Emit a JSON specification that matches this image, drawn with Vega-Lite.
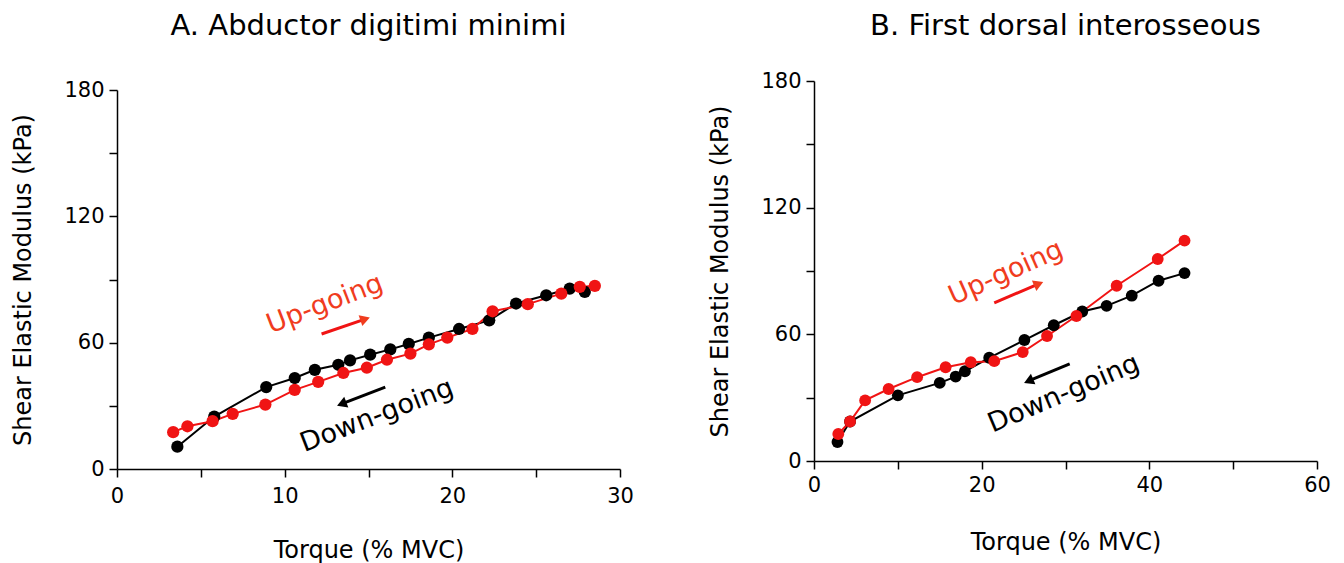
{
  "$schema": "https://vega.github.io/schema/vega-lite/v6.json",
  "background": "white",
  "padding": {"left": 11, "top": 12, "right": 5, "bottom": 5},
  "spacing": 74,
  "config": {
    "font": "DejaVu Sans",
    "view": {"stroke": null},
    "axis": {
      "grid": false,
      "domainColor": "black",
      "domainWidth": 1.5,
      "tickColor": "black",
      "tickWidth": 1.5,
      "tickSize": 8,
      "labelColor": "black",
      "labelFontSize": 21,
      "labelFlush": false,
      "labelOverlap": false,
      "labelPadding": 5,
      "titleColor": "black",
      "titleFontSize": 24,
      "titleFontWeight": "normal"
    },
    "title": {"fontSize": 29, "fontWeight": "normal", "color": "black", "anchor": "middle"}
  },
  "datasets": {
    "pts": [
      {"panel": "A", "dir": "down", "x": 3.6, "y": 10.6},
      {"panel": "A", "dir": "down", "x": 5.8, "y": 24.9},
      {"panel": "A", "dir": "down", "x": 8.9, "y": 38.9},
      {"panel": "A", "dir": "down", "x": 10.6, "y": 43.2},
      {"panel": "A", "dir": "down", "x": 11.8, "y": 47.1},
      {"panel": "A", "dir": "down", "x": 13.2, "y": 49.5},
      {"panel": "A", "dir": "down", "x": 13.9, "y": 51.6},
      {"panel": "A", "dir": "down", "x": 15.1, "y": 54.3},
      {"panel": "A", "dir": "down", "x": 16.3, "y": 56.8},
      {"panel": "A", "dir": "down", "x": 17.4, "y": 59.4},
      {"panel": "A", "dir": "down", "x": 18.6, "y": 62.4},
      {"panel": "A", "dir": "down", "x": 20.4, "y": 66.5},
      {"panel": "A", "dir": "down", "x": 22.2, "y": 70.6},
      {"panel": "A", "dir": "down", "x": 23.8, "y": 78.6},
      {"panel": "A", "dir": "down", "x": 25.6, "y": 82.5},
      {"panel": "A", "dir": "down", "x": 27.0, "y": 85.7},
      {"panel": "A", "dir": "down", "x": 27.9, "y": 84.1},
      {"panel": "A", "dir": "up", "x": 3.35, "y": 17.5},
      {"panel": "A", "dir": "up", "x": 4.2, "y": 20.3},
      {"panel": "A", "dir": "up", "x": 5.7, "y": 22.7},
      {"panel": "A", "dir": "up", "x": 6.9, "y": 26.2},
      {"panel": "A", "dir": "up", "x": 8.85, "y": 30.6},
      {"panel": "A", "dir": "up", "x": 10.6, "y": 37.6},
      {"panel": "A", "dir": "up", "x": 12.0, "y": 41.4},
      {"panel": "A", "dir": "up", "x": 13.5, "y": 45.6},
      {"panel": "A", "dir": "up", "x": 14.9, "y": 48.1},
      {"panel": "A", "dir": "up", "x": 16.1, "y": 51.9},
      {"panel": "A", "dir": "up", "x": 17.5, "y": 54.8},
      {"panel": "A", "dir": "up", "x": 18.6, "y": 59.2},
      {"panel": "A", "dir": "up", "x": 19.7, "y": 62.4},
      {"panel": "A", "dir": "up", "x": 21.2, "y": 66.5},
      {"panel": "A", "dir": "up", "x": 22.4, "y": 74.9},
      {"panel": "A", "dir": "up", "x": 24.5, "y": 78.3},
      {"panel": "A", "dir": "up", "x": 26.5, "y": 83.3},
      {"panel": "A", "dir": "up", "x": 27.6, "y": 86.5},
      {"panel": "A", "dir": "up", "x": 28.5, "y": 87.0},
      {"panel": "B", "dir": "down", "x": 2.8, "y": 9.0},
      {"panel": "B", "dir": "down", "x": 4.3, "y": 18.7},
      {"panel": "B", "dir": "down", "x": 10.0, "y": 31.1},
      {"panel": "B", "dir": "down", "x": 15.0, "y": 37.0},
      {"panel": "B", "dir": "down", "x": 16.9, "y": 40.0},
      {"panel": "B", "dir": "down", "x": 18.0, "y": 42.5},
      {"panel": "B", "dir": "down", "x": 20.9, "y": 48.9},
      {"panel": "B", "dir": "down", "x": 25.1, "y": 57.3},
      {"panel": "B", "dir": "down", "x": 28.6, "y": 64.3},
      {"panel": "B", "dir": "down", "x": 32.0, "y": 70.8},
      {"panel": "B", "dir": "down", "x": 34.9, "y": 73.5},
      {"panel": "B", "dir": "down", "x": 37.9, "y": 78.3},
      {"panel": "B", "dir": "down", "x": 41.1, "y": 85.4},
      {"panel": "B", "dir": "down", "x": 44.2, "y": 89.0},
      {"panel": "B", "dir": "up", "x": 2.9, "y": 12.8},
      {"panel": "B", "dir": "up", "x": 4.3, "y": 18.7},
      {"panel": "B", "dir": "up", "x": 6.1, "y": 28.7},
      {"panel": "B", "dir": "up", "x": 8.9, "y": 34.1},
      {"panel": "B", "dir": "up", "x": 12.3, "y": 39.7},
      {"panel": "B", "dir": "up", "x": 15.7, "y": 44.4},
      {"panel": "B", "dir": "up", "x": 18.7, "y": 46.8},
      {"panel": "B", "dir": "up", "x": 21.5, "y": 47.3},
      {"panel": "B", "dir": "up", "x": 24.9, "y": 51.6},
      {"panel": "B", "dir": "up", "x": 27.8, "y": 59.2},
      {"panel": "B", "dir": "up", "x": 31.3, "y": 68.7},
      {"panel": "B", "dir": "up", "x": 36.1, "y": 83.0},
      {"panel": "B", "dir": "up", "x": 41.0, "y": 95.7},
      {"panel": "B", "dir": "up", "x": 44.2, "y": 104.4}
    ],
    "ann": [
      {"panel": "A", "dir": "up", "label": "Up-going", "x": 12.4, "y": 78.3},
      {"panel": "A", "dir": "down", "label": "Down-going", "x": 15.5, "y": 25.2},
      {"panel": "B", "dir": "up", "label": "Up-going", "x": 22.9, "y": 89.0},
      {"panel": "B", "dir": "down", "label": "Down-going", "x": 29.8, "y": 31.8}
    ],
    "arr": [
      {"panel": "A", "dir": "up", "x": 12.2, "y": 64.1, "x2": 14.8, "y2": 71.2},
      {"panel": "A", "dir": "down", "x": 16.0, "y": 38.9, "x2": 13.4, "y2": 30.9},
      {"panel": "B", "dir": "up", "x": 21.5, "y": 74.9, "x2": 26.8, "y2": 83.9},
      {"panel": "B", "dir": "down", "x": 30.5, "y": 46.0, "x2": 25.6, "y2": 37.9}
    ]
  },
  "hconcat": [
    {
      "title": {"text": "A. Abductor digitimi minimi", "offset": 38},
      "width": 503,
      "height": 388,
      "layer": [
        {
          "data": {"name": "pts"},
          "transform": [{"filter": "datum.panel === 'A'"}],
          "mark": {"type": "line", "strokeWidth": 2},
          "encoding": {
            "x": {"field": "x", "type": "quantitative", "scale": {"domain": [0, 30], "nice": false},
              "axis": {"title": "Torque (% MVC)", "values": [0, 5, 10, 15, 20, 25, 30], "labelExpr": "datum.value % 10 === 0 ? datum.label : ''", "titlePadding": 32, "labelPadding": 8}},
            "y": {"field": "y", "type": "quantitative", "scale": {"domain": [0, 180], "nice": false, "range": [388, 9]},
              "axis": {"title": "Shear Elastic Modulus (kPa)", "values": [0, 30, 60, 90, 120, 150, 180], "labelExpr": "datum.value % 60 === 0 ? datum.label : ''", "titlePadding": 28}},
            "color": {"field": "dir", "type": "nominal", "scale": {"domain": ["down", "up"], "range": ["#000000", "#f01414"]}, "legend": null},
            "order": {"field": "x", "type": "quantitative"}
          }
        },
        {
          "data": {"name": "pts"},
          "transform": [{"filter": "datum.panel === 'A'"}],
          "mark": {"type": "point", "filled": true, "opacity": 1, "size": 150, "shape": "circle"},
          "encoding": {
            "x": {"field": "x", "type": "quantitative"},
            "y": {"field": "y", "type": "quantitative"},
            "color": {"field": "dir", "type": "nominal", "scale": {"domain": ["down", "up"], "range": ["#000000", "#f01414"]}, "legend": null}
          }
        },
        {
          "data": {"name": "arr"},
          "transform": [{"filter": "datum.panel === 'A'"}],
          "mark": {"type": "rule", "strokeWidth": 3},
          "encoding": {
            "x": {"field": "x", "type": "quantitative"},
            "y": {"field": "y", "type": "quantitative"},
            "x2": {"field": "x2"},
            "y2": {"field": "y2"},
            "color": {"field": "dir", "type": "nominal", "scale": {"domain": ["down", "up"], "range": ["#000000", "#f03c1e"]}, "legend": null}
          }
        },
        {
          "data": {"name": "arr"},
          "transform": [{"filter": "datum.panel === 'A' && datum.dir === 'up'"}],
          "mark": {"type": "point", "shape": "triangle-right", "filled": true, "opacity": 1, "size": 130, "angle": 341, "color": "#f03c1e"},
          "encoding": {"x": {"field": "x2", "type": "quantitative"}, "y": {"field": "y2", "type": "quantitative"}}
        },
        {
          "data": {"name": "arr"},
          "transform": [{"filter": "datum.panel === 'A' && datum.dir === 'down'"}],
          "mark": {"type": "point", "shape": "triangle-right", "filled": true, "opacity": 1, "size": 130, "angle": 159, "color": "#000000"},
          "encoding": {"x": {"field": "x2", "type": "quantitative"}, "y": {"field": "y2", "type": "quantitative"}}
        },
        {
          "data": {"name": "ann"},
          "transform": [{"filter": "datum.panel === 'A' && datum.dir === 'up'"}],
          "mark": {"type": "text", "fontSize": 27, "angle": 339, "color": "#f03c1e"},
          "encoding": {"x": {"field": "x", "type": "quantitative"}, "y": {"field": "y", "type": "quantitative"}, "text": {"field": "label"}}
        },
        {
          "data": {"name": "ann"},
          "transform": [{"filter": "datum.panel === 'A' && datum.dir === 'down'"}],
          "mark": {"type": "text", "fontSize": 27, "angle": 339, "color": "#000000"},
          "encoding": {"x": {"field": "x", "type": "quantitative"}, "y": {"field": "y", "type": "quantitative"}, "text": {"field": "label"}}
        }
      ]
    },
    {
      "title": {"text": "B. First dorsal interosseous", "offset": 29},
      "width": 503,
      "height": 380,
      "layer": [
        {
          "data": {"name": "pts"},
          "transform": [{"filter": "datum.panel === 'B'"}],
          "mark": {"type": "line", "strokeWidth": 2},
          "encoding": {
            "x": {"field": "x", "type": "quantitative", "scale": {"domain": [0, 60], "nice": false},
              "axis": {"title": "Torque (% MVC)", "values": [0, 10, 20, 30, 40, 50, 60], "labelExpr": "datum.value % 20 === 0 ? datum.label : ''", "titlePadding": 35}},
            "y": {"field": "y", "type": "quantitative", "scale": {"domain": [0, 180], "nice": false},
              "axis": {"title": "Shear Elastic Modulus (kPa)", "values": [0, 30, 60, 90, 120, 150, 180], "labelExpr": "datum.value % 60 === 0 ? datum.label : ''", "titlePadding": 28}},
            "color": {"field": "dir", "type": "nominal", "scale": {"domain": ["down", "up"], "range": ["#000000", "#f01414"]}, "legend": null},
            "order": {"field": "x", "type": "quantitative"}
          }
        },
        {
          "data": {"name": "pts"},
          "transform": [{"filter": "datum.panel === 'B'"}],
          "mark": {"type": "point", "filled": true, "opacity": 1, "size": 140, "shape": "circle"},
          "encoding": {
            "x": {"field": "x", "type": "quantitative"},
            "y": {"field": "y", "type": "quantitative"},
            "color": {"field": "dir", "type": "nominal", "scale": {"domain": ["down", "up"], "range": ["#000000", "#f01414"]}, "legend": null}
          }
        },
        {
          "data": {"name": "arr"},
          "transform": [{"filter": "datum.panel === 'B'"}],
          "mark": {"type": "rule", "strokeWidth": 3},
          "encoding": {
            "x": {"field": "x", "type": "quantitative"},
            "y": {"field": "y", "type": "quantitative"},
            "x2": {"field": "x2"},
            "y2": {"field": "y2"},
            "color": {"field": "dir", "type": "nominal", "scale": {"domain": ["down", "up"], "range": ["#000000", "#f03c1e"]}, "legend": null}
          }
        },
        {
          "data": {"name": "arr"},
          "transform": [{"filter": "datum.panel === 'B' && datum.dir === 'up'"}],
          "mark": {"type": "point", "shape": "triangle-right", "filled": true, "opacity": 1, "size": 130, "angle": 337, "color": "#f03c1e"},
          "encoding": {"x": {"field": "x2", "type": "quantitative"}, "y": {"field": "y2", "type": "quantitative"}}
        },
        {
          "data": {"name": "arr"},
          "transform": [{"filter": "datum.panel === 'B' && datum.dir === 'down'"}],
          "mark": {"type": "point", "shape": "triangle-right", "filled": true, "opacity": 1, "size": 130, "angle": 157, "color": "#000000"},
          "encoding": {"x": {"field": "x2", "type": "quantitative"}, "y": {"field": "y2", "type": "quantitative"}}
        },
        {
          "data": {"name": "ann"},
          "transform": [{"filter": "datum.panel === 'B' && datum.dir === 'up'"}],
          "mark": {"type": "text", "fontSize": 27, "angle": 336, "color": "#f03c1e"},
          "encoding": {"x": {"field": "x", "type": "quantitative"}, "y": {"field": "y", "type": "quantitative"}, "text": {"field": "label"}}
        },
        {
          "data": {"name": "ann"},
          "transform": [{"filter": "datum.panel === 'B' && datum.dir === 'down'"}],
          "mark": {"type": "text", "fontSize": 27, "angle": 337, "color": "#000000"},
          "encoding": {"x": {"field": "x", "type": "quantitative"}, "y": {"field": "y", "type": "quantitative"}, "text": {"field": "label"}}
        }
      ]
    }
  ]
}
